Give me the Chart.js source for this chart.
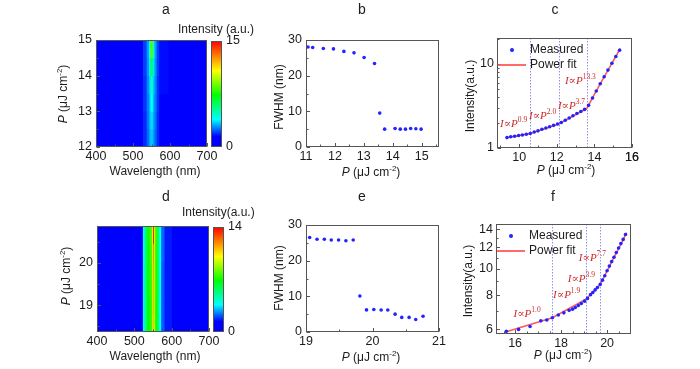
<!DOCTYPE html>
<html>
<head>
<meta charset="utf-8">
<title>Lasing threshold panels</title>
<script src="https://cdn.jsdelivr.net/npm/chart.js@4.4.1/dist/chart.umd.min.js"></script>
<style>
  html, body { margin: 0; padding: 0; background: #fff; }
  #wrap { position: relative; width: 700px; height: 369px; overflow: hidden; }
  #wrap canvas { position: absolute; left: 0; top: 0; }
</style>
</head>
<body>
<div id="wrap"></div>
<script>
// ---- data ----
// a: spectra map, wavelength segment edges (nm) and intensity per row (bottom row first)
const aWl = [400, 526, 536, 542, 546, 553, 557, 563, 570, 595, 700];
const aInt = [
  [0.3, 1.9, 2.5, 3.0, 3.4, 3.0, 2.5, 1.9, 1.5, 0.3],
  [0.3, 1.9, 2.6, 3.1, 3.6, 3.1, 2.6, 1.9, 1.5, 0.3],
  [0.3, 2.0, 2.7, 3.2, 3.9, 3.2, 2.7, 2.0, 1.5, 0.3],
  [0.3, 2.0, 2.8, 3.4, 4.6, 3.4, 2.8, 2.0, 1.6, 0.3],
  [0.3, 2.1, 2.9, 3.7, 6.0, 3.7, 2.9, 2.1, 1.6, 0.3],
  [0.3, 2.1, 3.0, 4.0, 8.5, 4.1, 3.0, 2.1, 1.6, 0.3]
];
const aRange = [12, 15];
const aCbar = [0, 15];

// d: spectra map
const dWl = [400, 522, 527, 533, 540, 546, 549, 552, 555, 561, 566, 571, 580, 600, 700];
const dInt = [
  [0.3, 3.6, 5.4, 6.9, 7.3, 9.0, 11.0, 9.0, 7.1, 5.4, 3.6, 2.2, 1.6, 0.3],
  [0.3, 3.6, 5.4, 6.9, 7.3, 9.0, 11.2, 9.0, 7.1, 5.4, 3.6, 2.2, 1.6, 0.3],
  [0.3, 3.6, 5.5, 7.0, 7.4, 9.1, 11.3, 9.1, 7.2, 5.5, 3.6, 2.2, 1.6, 0.3],
  [0.3, 3.6, 5.5, 7.0, 7.4, 9.2, 11.5, 9.2, 7.2, 5.5, 3.7, 2.2, 1.6, 0.3],
  [0.3, 3.7, 5.5, 7.0, 7.5, 9.3, 11.8, 9.3, 7.3, 5.5, 3.7, 2.3, 1.6, 0.3],
  [0.3, 3.7, 5.6, 7.1, 7.6, 9.6, 13.4, 9.6, 7.4, 5.6, 3.8, 2.3, 1.6, 0.3]
];
const dRange = [18.36, 20.88];
const dCbar = [0, 14];

// b: FWHM vs pump fluence
const bP = [11.07, 11.23, 11.6, 11.95, 12.31, 12.66, 13.01, 13.37, 13.55, 13.72, 14.08, 14.26, 14.44, 14.62, 14.8, 14.98];
const bFWHM = [28.05, 27.9, 27.6, 27.5, 26.8, 26.4, 25.1, 23.4, 9.5, 5.0, 5.2, 5.0, 5.0, 5.2, 5.1, 5.0];

// e: FWHM vs pump fluence
const eP = [19.055, 19.166, 19.276, 19.38, 19.49, 19.6, 19.71, 19.81, 19.91, 20.02, 20.13, 20.23, 20.34, 20.44, 20.55, 20.65, 20.76];
const eFWHM = [26.5, 26.0, 26.0, 25.8, 25.8, 25.6, 25.8, 10.1, 6.2, 6.3, 6.15, 6.15, 5.0, 4.1, 4.1, 3.5, 4.4];

// c: integrated intensity (log) and power fit
const cP = [9.35, 9.55, 9.76, 9.97, 10.17, 10.38, 10.59, 10.8, 11.0, 11.21, 11.42, 11.62, 11.83, 12.04, 12.24,
            12.45, 12.66, 12.86, 13.07, 13.28, 13.48, 13.69, 13.9, 14.1, 14.31, 14.52, 14.72, 14.93, 15.14, 15.34];
const cI = [1.33, 1.36, 1.38, 1.41, 1.43, 1.46, 1.49, 1.55, 1.60, 1.67, 1.73, 1.79, 1.86, 1.93, 2.01,
            2.14, 2.28, 2.42, 2.57, 2.72, 2.88, 3.22, 3.94, 4.77, 5.81, 7.05, 8.46, 10.2, 12.3, 14.6];
const cFitP = [9.35, 10.6, 12.1, 13.6, 14.0, 14.4, 14.8, 15.15, 15.38];
const cFitI = [1.33, 1.49, 1.93, 2.97, 4.34, 6.31, 9.08, 12.4, 15.4];
const cBreaks = [10.6, 12.1, 13.6];
const cLaws = ['0.9', '2.0', '3.7', '13.3'];
const cLawAt = [[8.98, 1.95], [10.52, 2.42], [12.06, 3.19], [12.43, 6.33]];

// f: integrated intensity (log) and power fit
const fP = [15.62, 16.15, 16.65, 17.12, 17.38, 17.62, 17.88, 18.12, 18.35, 18.5, 18.62, 18.75, 18.88, 19.02, 19.15, 19.28,
            19.38, 19.48, 19.58, 19.7, 19.8, 19.9, 20.0, 20.1, 20.2, 20.3, 20.4, 20.5, 20.6, 20.7, 20.8];
const fI = [5.9, 6.0, 6.15, 6.45, 6.5, 6.62, 6.78, 6.9, 7.05, 7.12, 7.22, 7.34, 7.47, 7.62, 7.8, 8.05,
            8.2, 8.38, 8.55, 8.78, 9.1, 9.45, 9.85, 10.25, 10.65, 11.05, 11.5, 11.95, 12.4, 12.85, 13.4];
const fFitP = [15.62, 17.62, 19.1, 19.7, 20.0, 20.3, 20.55, 20.85];
const fFitI = [5.88, 6.62, 7.77, 8.77, 9.85, 11.04, 12.1, 13.6];
const fBreaks = [17.62, 19.1, 19.7];
const fLaws = ['1.0', '1.9', '3.9', '7.7'];
const fLawAt = [[15.93, 6.82], [17.65, 8.03], [18.29, 9.2], [18.77, 10.97]];

// tick labels (major) and minor tick positions
const wlTicks = [400, 500, 600, 700], wlMinor = [450, 550, 650];
const aTicks = [12, 13, 14, 15], aMinor = [12.5, 13.5, 14.5];
const dTicks = [19, 20], dMinor = [18.5, 19.5, 20.5];
const bxTicks = [11, 12, 13, 14, 15], bxMinor = [11.5, 12.5, 13.5, 14.5, 15.5];
const exTicks = [19, 20, 21], exMinor = [19.5, 20.5];
const fwhmTicks = [0, 10, 20, 30], fwhmMinor = [5, 15, 25];
const cxTicks = [10, 12, 14, 16], cxMinor = [9, 11, 13, 15];
const cyTicks = [1, 10], cyMinor = [2, 3, 4, 5, 6, 7, 8, 9, 20];
const fxTicks = [16, 18, 20], fxMinor = [15.5, 16.5, 17, 17.5, 18.5, 19, 19.5, 20.5];
const fyTicks = [6, 8, 10, 12, 14], fyMinor = [7, 9, 11, 13];

// ---- style ----
const SANS = '"Liberation Sans", Arial, sans-serif';
const SERIF = '"Liberation Serif", "Times New Roman", "DejaVu Serif", serif';
const INK = '#1c1c1c';
const BLUE = '#2323ff';
const RED = '#ff5a5a';
const LAW = '#cc2b2b';
const W = 700, H = 369;

const stops = [[0, [0, 0, 255]], [0.1, [0, 0, 255]], [0.26, [0, 255, 255]], [0.49, [0, 255, 0]],
               [0.72, [255, 255, 0]], [0.86, [255, 128, 0]], [1, [255, 0, 0]]];
function cmap(t) {
  t = Math.max(0, Math.min(1, t));
  for (let i = 1; i < stops.length; i++) {
    if (t <= stops[i][0]) {
      const [t0, c0] = stops[i - 1], [t1, c1] = stops[i];
      const k = (t - t0) / (t1 - t0);
      return 'rgb(' + c0.map((c, j) => Math.round(c + (c1[j] - c) * k)).join(',') + ')';
    }
  }
  return 'rgb(255,0,0)';
}

const plain = (s, size) => [{ t: s, f: size + 'px ' + SANS }];
const pTitle = [
  { t: 'P', f: 'italic 12px ' + SANS },
  { t: ' (\u03bcJ cm', f: '12px ' + SANS },
  { t: '-2', f: '8px ' + SANS, dy: -4 },
  { t: ')', f: '12px ' + SANS }
];
const law = e => [
  { t: 'I', f: 'italic 11px ' + SERIF },
  { t: '\u221d', f: '11px ' + SERIF },
  { t: 'P', f: 'italic 11px ' + SERIF },
  { t: e, f: '7.5px ' + SERIF, dy: -4 }
];

function drawParts(ctx, t) {
  ctx.save();
  ctx.translate(t.x, t.y);
  if (t.rot) ctx.rotate(t.rot);
  ctx.textBaseline = 'middle';
  ctx.textAlign = 'left';
  ctx.fillStyle = t.color || INK;
  let w = 0;
  t.parts.forEach(p => { ctx.font = p.f; w += ctx.measureText(p.t).width; });
  let x = t.align === 'left' ? 0 : -w / 2;
  t.parts.forEach(p => {
    ctx.font = p.f;
    ctx.fillText(p.t, x, p.dy || 0);
    x += ctx.measureText(p.t).width;
  });
  ctx.restore();
}

// frame, inward ticks, dotted guides, texts and the small legend
const deco = {
  id: 'deco',
  beforeDatasetsDraw(chart, args, o) {
    const a = chart.chartArea, ctx = chart.ctx;
    ctx.save();
    if (o.fill) { ctx.fillStyle = o.fill; ctx.fillRect(a.left, a.top, a.width, a.height); }
    if (o.vlines) {
      ctx.strokeStyle = '#8f8ff2'; ctx.lineWidth = 1; ctx.setLineDash([1.5, 1.5]);
      o.vlines.forEach(v => {
        const x = Math.round(chart.scales.x.getPixelForValue(v)) + 0.5;
        ctx.beginPath(); ctx.moveTo(x, a.top); ctx.lineTo(x, a.bottom); ctx.stroke();
      });
    }
    ctx.restore();
  },
  afterDraw(chart, args, o) {
    const a = chart.chartArea, ctx = chart.ctx;
    ctx.save();
    ctx.strokeStyle = '#555'; ctx.lineWidth = 1;
    ctx.strokeRect(Math.round(a.left) + 0.5, Math.round(a.top) + 0.5, Math.round(a.width) - 1, Math.round(a.height) - 1);
    if (o.ticks) {
      const xs = chart.scales.x, ys = chart.scales[o.ticks.yId || 'y'];
      const bx = Math.round(a.bottom) - 0.5, lx = Math.round(a.left) + 0.5;
      const xt = (arr, len) => arr.forEach(v => {
        const x = Math.round(xs.getPixelForValue(v)) + 0.5;
        ctx.beginPath(); ctx.moveTo(x, bx); ctx.lineTo(x, bx - len); ctx.stroke();
      });
      const yt = (arr, len) => arr.forEach(v => {
        const y = Math.round(ys.getPixelForValue(v)) + 0.5;
        ctx.beginPath(); ctx.moveTo(lx, y); ctx.lineTo(lx + len, y); ctx.stroke();
      });
      xt(o.ticks.x, 3.5); xt(o.ticks.xm, 2);
      yt(o.ticks.y, 3.5); yt(o.ticks.ym, 2);
    }
    // tick label sitting on the right-hand edge of the x axis
    (o.edge || []).forEach(v => {
      ctx.font = '12.5px ' + SANS; ctx.fillStyle = INK;
      ctx.textAlign = 'center'; ctx.textBaseline = 'middle';
      ctx.fillText(String(v), chart.scales.x.getPixelForValue(v), a.bottom + 9.5);
    });
    if (o.legend) {
      ctx.fillStyle = BLUE;
      ctx.beginPath(); ctx.arc(a.left + 15, a.top + 12, 2, 0, Math.PI * 2); ctx.fill();
      ctx.strokeStyle = RED; ctx.lineWidth = 1.8;
      ctx.beginPath(); ctx.moveTo(a.left + 1, a.top + 27); ctx.lineTo(a.left + 29, a.top + 27); ctx.stroke();
      drawParts(ctx, { x: a.left + 33, y: a.top + 12, align: 'left', parts: plain('Measured', 12) });
      drawParts(ctx, { x: a.left + 33, y: a.top + 27, align: 'left', parts: plain('Power fit', 12) });
    }
    (o.laws || []).forEach(l => drawParts(ctx, {
      x: chart.scales.x.getPixelForValue(l.at[0]), y: chart.scales.y.getPixelForValue(l.at[1]),
      align: 'left', color: LAW, parts: law(l.e)
    }));
    (o.texts || []).forEach(t => drawParts(ctx, t));
    ctx.restore();
  }
};

const wrap = document.getElementById('wrap');
function mk() {
  const c = document.createElement('canvas');
  c.width = W; c.height = H;
  c.style.width = W + 'px'; c.style.height = H + 'px';
  wrap.appendChild(c);
  return c;
}

function axis(extra, ticks, size, isX, pad) {
  return Object.assign({
    offset: false,
    grid: { display: false, drawTicks: false, offset: false },
    border: { display: false },
    ticks: {
      font: { family: SANS, size: 12.5 }, color: INK, padding: pad,
      maxRotation: 0, autoSkip: false, callback: v => v
    },
    afterBuildTicks: s => { s.ticks = ticks.map(v => ({ value: v })); },
    afterFit: s => { if (isX) s.height = size; else s.width = size; }
  }, extra);
}

const base = { responsive: false, animation: false, devicePixelRatio: 1, events: [] };

// area: {l, t, r, b} in page pixels; yw/xh: room kept for tick labels
function padding(A, yw, xh) {
  return { left: A.l - yw, top: A.t, right: W - A.r, bottom: H - A.b - xh };
}

function heatmap(A, wl, grid, vmax, range, yTicks, yMinor, texts) {
  const datasets = wl.slice(0, -1).map((w, j) => ({
    data: grid.map(() => [wl[j], wl[j + 1]]),
    backgroundColor: grid.map(row => cmap(row[j] / vmax)),
    borderWidth: 0, grouped: false, barPercentage: 1, categoryPercentage: 1
  }));
  new Chart(mk(), {
    type: 'bar',
    data: { labels: grid.map((_, i) => i), datasets },
    options: Object.assign({}, base, {
      indexAxis: 'y',
      layout: { padding: padding(A, 30, 18) },
      scales: {
        x: axis({ type: 'linear', min: wl[0], max: wl[wl.length - 1] }, wlTicks, 18, true, 2),
        y: { type: 'category', display: false, reverse: true, offset: true },
        yP: axis({ type: 'linear', position: 'left', min: range[0], max: range[1] }, yTicks, 30, false, 4)
      },
      plugins: {
        legend: { display: false }, tooltip: { enabled: false },
        deco: { fill: cmap(0), ticks: { yId: 'yP', x: wlTicks, xm: wlMinor, y: yTicks, ym: yMinor }, texts }
      }
    }),
    plugins: [deco]
  });
}

function colorbar(A, span, texts) {
  new Chart(mk(), {
    type: 'bar',
    data: {
      labels: ['I'],
      datasets: [{
        data: [[span[0], span[1]]], borderWidth: 0, barPercentage: 1, categoryPercentage: 1,
        backgroundColor: c => {
          const a = c.chart.chartArea;
          if (!a) return cmap(0);
          const g = c.chart.ctx.createLinearGradient(0, a.bottom, 0, a.top);
          stops.forEach(s => g.addColorStop(s[0], 'rgb(' + s[1].join(',') + ')'));
          return g;
        }
      }]
    },
    options: Object.assign({}, base, {
      layout: { padding: { left: A.l, top: A.t, right: W - A.r - 20, bottom: H - A.b } },
      scales: {
        x: { type: 'category', display: false, offset: true },
        y: axis({ type: 'linear', position: 'right', min: span[0], max: span[1] }, span, 20, false, 4)
      },
      plugins: { legend: { display: false }, tooltip: { enabled: false }, deco: { texts } }
    }),
    plugins: [deco]
  });
}

function scatterPanel(A, c) {
  const datasets = [{
    data: c.x.map((v, i) => ({ x: v, y: c.y[i] })),
    pointRadius: 1.8, pointBackgroundColor: BLUE, pointBorderWidth: 0, showLine: false, order: 0
  }];
  if (c.fx) datasets.push({
    data: c.fx.map((v, i) => ({ x: v, y: c.fy[i] })),
    showLine: true, borderColor: RED, borderWidth: 1.6, pointRadius: 0, order: 1
  });
  new Chart(mk(), {
    type: 'scatter',
    data: { datasets },
    options: Object.assign({}, base, {
      layout: { padding: padding(A, c.yw, 18) },
      scales: {
        x: axis({ type: 'linear', min: c.xr[0], max: c.xr[1] }, c.xt, 18, true, 2),
        y: axis({ type: c.log ? 'logarithmic' : 'linear', min: c.yr[0], max: c.yr[1] }, c.yt, c.yw, false, c.ypad)
      },
      plugins: {
        legend: { display: false }, tooltip: { enabled: false },
        deco: {
          ticks: { x: c.xt, xm: c.xm, y: c.yt, ym: c.ym }, vlines: c.breaks, legend: !!c.fx, edge: c.edge,
          laws: (c.laws || []).map((e, i) => ({ e, at: c.lawAt[i] })), texts: c.texts
        }
      }
    }),
    plugins: [deco]
  });
}

// ---- panels ----
heatmap({ l: 96, t: 40, r: 207, b: 147 }, aWl, aInt, aCbar[1], aRange, aTicks, aMinor, [
  { x: 166, y: 10, parts: plain('a', 14) },
  { x: 64, y: 94, rot: -Math.PI / 2, parts: pTitle },
  { x: 155, y: 172, parts: plain('Wavelength (nm)', 12) }
]);
colorbar({ l: 211, t: 41, r: 222, b: 147 }, aCbar, [
  { x: 178, y: 30, align: 'left', parts: plain('Intensity (a.u.)', 12) }
]);

heatmap({ l: 97, t: 226, r: 209, b: 332 }, dWl, dInt, dCbar[1], dRange, dTicks, dMinor, [
  { x: 166, y: 197, parts: plain('d', 14) },
  { x: 67, y: 276, rot: -Math.PI / 2, parts: pTitle },
  { x: 155, y: 357, parts: plain('Wavelength (nm)', 12) }
]);
colorbar({ l: 213, t: 227, r: 224, b: 332 }, dCbar, [
  { x: 182, y: 213, align: 'left', parts: plain('Intensity(a.u.)', 12) }
]);

scatterPanel({ l: 306, t: 40, r: 439, b: 147 }, {
  x: bP, y: bFWHM, xr: [11, 15.6], yr: [0, 30], xt: bxTicks, xm: bxMinor, yt: fwhmTicks, ym: fwhmMinor,
  yw: 30, ypad: 4,
  texts: [
    { x: 362, y: 10, parts: plain('b', 14) },
    { x: 280, y: 97, rot: -Math.PI / 2, parts: plain('FWHM (nm)', 12) },
    { x: 371, y: 173, parts: pTitle }
  ]
});

scatterPanel({ l: 306, t: 225, r: 439, b: 332 }, {
  x: eP, y: eFWHM, xr: [19, 21], yr: [0, 30], xt: exTicks, xm: exMinor, yt: fwhmTicks, ym: fwhmMinor,
  yw: 30, ypad: 4,
  texts: [
    { x: 362, y: 197, parts: plain('e', 14) },
    { x: 280, y: 278, rot: -Math.PI / 2, parts: plain('FWHM (nm)', 12) },
    { x: 371, y: 358, parts: pTitle }
  ]
});

scatterPanel({ l: 496, t: 224, r: 631, b: 334 }, {
  x: fP, y: fI, fx: fFitP, fy: fFitI, log: true,
  xr: [15.17, 21.04], yr: [5.77, 14.64], xt: fxTicks, xm: fxMinor, yt: fyTicks, ym: fyMinor,
  yw: 24, ypad: 3, breaks: fBreaks, laws: fLaws, lawAt: fLawAt,
  texts: [
    { x: 553, y: 197, parts: plain('f', 14) },
    { x: 469, y: 281, rot: -Math.PI / 2, parts: plain('Intensity(a.u.)', 12) },
    { x: 563, y: 356, parts: pTitle }
  ]
});

scatterPanel({ l: 497, t: 38, r: 632, b: 148 }, {
  x: cP, y: cI, fx: cFitP, fy: cFitI, log: true,
  xr: [8.82, 16], yr: [1, 20.4], xt: cxTicks, xm: cxMinor, yt: cyTicks, ym: cyMinor,
  yw: 24, ypad: 3, breaks: cBreaks, laws: cLaws, lawAt: cLawAt, edge: [cxTicks[cxTicks.length - 1]],
  texts: [
    { x: 555, y: 10, parts: plain('c', 14) },
    { x: 471, y: 96, rot: -Math.PI / 2, parts: plain('Intensity(a.u.)', 12) },
    { x: 566, y: 171, parts: pTitle }
  ]
});
</script>
</body>
</html>
